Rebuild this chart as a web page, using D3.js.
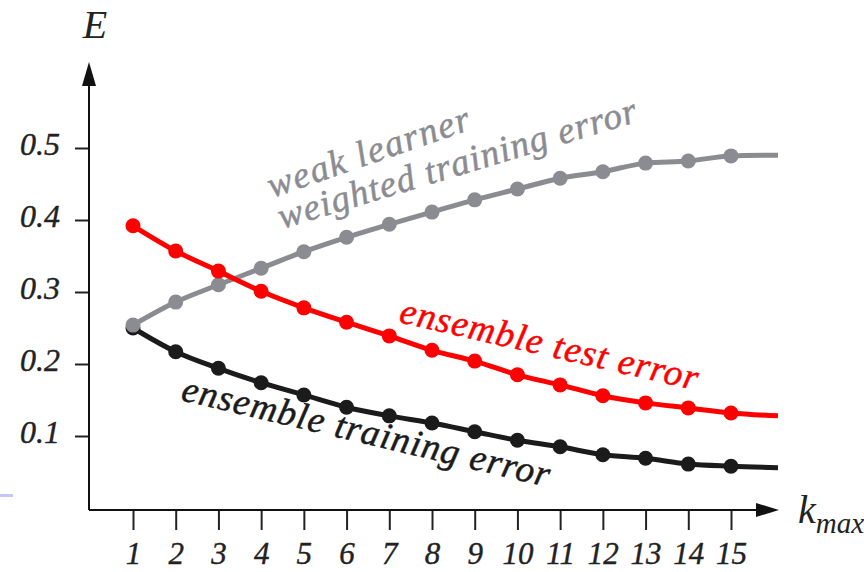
<!DOCTYPE html>
<html lang='en'>
  <head>
    <meta charset='utf-8'>
    <title>Ensemble error vs k_max</title>
    <script type='text/javascript' src='https://cdn.jsdelivr.net/npm/d3@7'></script>
    <style>
      body { margin: 0; background: #fff; }
    </style>
  </head>
  <body>
    <script type='text/javascript'>

      // data
      var kValues = [1,2,3,4,5,6,7,8,9,10,11,12,13,14,15];
      var weakErr  = [0.254,0.286,0.310,0.333,0.356,0.376,0.394,0.411,0.428,0.443,0.458,0.467,0.479,0.482,0.489];
      var testErr  = [0.392,0.357,0.329,0.301,0.278,0.258,0.239,0.219,0.204,0.185,0.171,0.156,0.146,0.139,0.132];
      var trainErr = [0.250,0.217,0.194,0.174,0.157,0.140,0.128,0.118,0.106,0.094,0.085,0.074,0.069,0.061,0.058];
      // each curve runs on a little past the last marker
      var tailK = 16.1;
      var tailValues = { weak: 0.490, test: 0.128, train: 0.056 };
      var yTicks = [0.1,0.2,0.3,0.4,0.5];

      var w = 864;
      var h = 572;
      var serif = 'Liberation Serif, Times New Roman, serif';

      var svg = d3.select('body')
                  .append('svg')
                  .attr('width', w)
                  .attr('height', h);

      var xScale = d3.scaleLinear()
                     .domain([1,15])
                     .range([133,731]);

      var yScale = d3.scaleLinear()
                     .domain([0,0.5])
                     .range([508,148]);

      var axisX = 89;   // where the vertical axis sits
      var axisY = 510;  // where the horizontal axis sits

      // stray blue mark at the left edge of the scan
      svg.append('rect')
         .attr('x', 0).attr('y', 494)
         .attr('width', 13).attr('height', 3)
         .attr('fill', '#c6c6ff');

      // x axis ticks + labels
      var gx = svg.append('g')
                  .attr('transform', 'translate(0,' + axisY + ')')
                  .call(d3.axisBottom(xScale).tickValues(kValues).tickSize(20).tickFormat(d3.format('d')));
      gx.select('.domain').remove();
      gx.selectAll('line').attr('stroke', '#222').attr('stroke-width', 2);
      gx.selectAll('text')
        .attr('y', 54).attr('dy', 0)
        .attr('font-size', '31px')
        .attr('font-family', serif)
        .attr('font-style', 'italic')
        .attr('fill', '#222')
        .attr('stroke', '#222').attr('stroke-width', 0.4);

      // y axis ticks + labels
      var gy = svg.append('g')
                  .attr('transform', 'translate(' + axisX + ',0)')
                  .call(d3.axisLeft(yScale).tickValues(yTicks).tickSize(14).tickPadding(15).tickFormat(d3.format('.1f')));
      gy.select('.domain').remove();
      gy.selectAll('line').attr('stroke', '#222').attr('stroke-width', 2);
      gy.selectAll('text')
        .attr('dy', 6)
        .attr('font-size', '32px')
        .attr('font-family', serif)
        .attr('font-style', 'italic')
        .attr('fill', '#222')
        .attr('stroke', '#222').attr('stroke-width', 0.4);

      // axis lines with arrow heads
      svg.append('path')
         .attr('d', 'M' + axisX + ',' + axisY + 'V80')
         .attr('stroke', '#111').attr('stroke-width', 2).attr('fill', 'none');
      svg.append('path')
         .attr('d', 'M' + axisX + ',62L' + (axisX - 7) + ',86L' + (axisX + 7) + ',86Z')
         .attr('fill', '#111');
      svg.append('path')
         .attr('d', 'M' + axisX + ',' + axisY + 'H760')
         .attr('stroke', '#111').attr('stroke-width', 2).attr('fill', 'none');
      svg.append('path')
         .attr('d', 'M779,' + axisY + 'L756,' + (axisY - 7) + 'L756,' + (axisY + 7) + 'Z')
         .attr('fill', '#111');

      // axis titles
      svg.append('text')
         .attr('x', 95).attr('y', 38)
         .attr('text-anchor', 'middle')
         .attr('font-family', serif)
         .attr('font-style', 'italic')
         .attr('font-size', '40px')
         .attr('fill', '#222')
         .text('E');
      var kt = svg.append('text')
                  .attr('x', 798).attr('y', 523)
                  .attr('font-family', serif)
                  .attr('font-style', 'italic')
                  .attr('fill', '#222');
      kt.append('tspan').attr('font-size', '40px').text('k');
      kt.append('tspan').attr('font-size', '29px').attr('dy', 10).text('max');

      var line = d3.line()
                   .x(function(d){ return xScale(d[0]); })
                   .y(function(d){ return yScale(d[1]); })
                   .curve(d3.curveMonotoneX);

      var series = [
        { name: 'train', values: trainErr, color: '#1b1b1b' },
        { name: 'weak',  values: weakErr,  color: '#8b8c91' },
        { name: 'test',  values: testErr,  color: '#ff0000' }
      ];

      series.forEach(function(s){
        var pts = kValues.map(function(k, i){ return [k, s.values[i]]; });
        svg.append('path')
           .datum(pts.concat([[tailK, tailValues[s.name]]]))
           .attr('d', line)
           .attr('fill', 'none')
           .attr('stroke', s.color)
           .attr('stroke-width', 5);
        svg.append('g')
           .selectAll('circle')
           .data(pts)
           .enter()
           .append('circle')
           .attr('cx', function(d){ return xScale(d[0]); })
           .attr('cy', function(d){ return yScale(d[1]); })
           .attr('r', 7.5)
           .attr('fill', s.color);
      });

      // curve labels (len = run of the label along its baseline)
      var labels = [
        { text: 'weak learner',            x: 272, y: 198, angle: -19,   len: 212, color: '#8b8c91' },
        { text: 'weighted training error', x: 282, y: 229, angle: -16.8, len: 373, color: '#8b8c91' },
        { text: 'ensemble test error',     x: 398, y: 322, angle: 12.9,  len: 305, color: '#ff0000' },
        { text: 'ensemble training error', x: 180, y: 400, angle: 13.3,  len: 377, color: '#1b1b1b' }
      ];
      svg.selectAll('text.lbl')
         .data(labels)
         .enter()
         .append('text')
         .attr('class', 'lbl')
         .attr('transform', function(d){ return 'translate(' + d.x + ',' + d.y + ') rotate(' + d.angle + ')'; })
         .attr('font-family', serif)
         .attr('font-style', 'italic')
         .attr('font-size', '37px')
         .attr('textLength', function(d){ return d.len; })
         .attr('lengthAdjust', 'spacing')
         .attr('fill', function(d){ return d.color; })
         .attr('stroke', function(d){ return d.color; })
         .attr('stroke-width', 0.5)
         .text(function(d){ return d.text; });

    </script>
  </body>
</html>
